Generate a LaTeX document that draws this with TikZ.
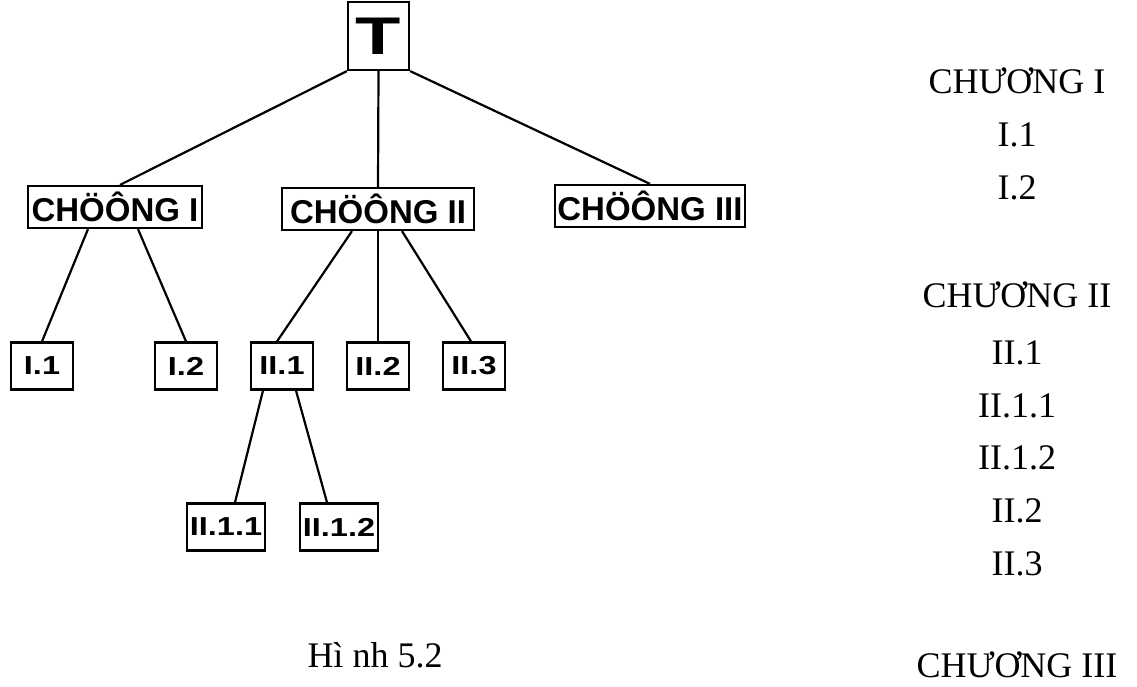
\documentclass[tikz,border=0pt]{standalone}
\usepackage{fontspec}
\usepackage{graphicx}
\setmainfont{Liberation Serif}
\newfontfamily\boxfont{Liberation Sans}
\newcommand{\widelabel}[1]{\scalebox{1.25}[1]{#1}}
\begin{document}
\begin{tikzpicture}[x=1pt,y=-1pt,
  box/.style={draw, line width=2.2pt, inner sep=0pt, align=center,
    font=\boxfont\bfseries},
  chapbox/.style={box, minimum height=42pt, font=\boxfont\bfseries\fontsize{33}{33}\selectfont},
  secbox/.style={box, minimum width=62pt, minimum height=47pt, font=\boxfont\bfseries\fontsize{26}{26}\selectfont},
  subbox/.style={box, minimum width=78pt, minimum height=47pt, font=\boxfont\bfseries\fontsize{26}{26}\selectfont},
  link/.style={line width=2.2pt},
  toc/.style={font=\fontsize{36}{36}\selectfont, inner sep=0pt, anchor=base},
]
\useasboundingbox (0,0) rectangle (1137,687);

% tree
\node[box, minimum width=61pt, minimum height=68pt,
  font=\boxfont\bfseries\fontsize{53}{53}\selectfont] (T) at (378.5,36) {\scalebox{1.4}[1]{T}};

\node[chapbox, minimum width=174pt] (ch1) at (115,207) {CHÖÔNG I};
\node[chapbox, minimum width=192pt] (ch2) at (378,209) {CHÖÔNG II};
\node[chapbox, minimum width=190pt] (ch3) at (650,206) {CHÖÔNG III};

\node[secbox] (i1)  at (42,366)  {\widelabel{I.1}};
\node[secbox] (i2)  at (186,366) {\widelabel{I.2}};
\node[secbox] (ii1) at (282,366) {\widelabel{II.1}};
\node[secbox] (ii2) at (378,366) {\widelabel{II.2}};
\node[secbox] (ii3) at (474,366) {\widelabel{II.3}};

\node[subbox] (ii11) at (226,527) {\widelabel{II.1.1}};
\node[subbox] (ii12) at (339,527) {\widelabel{II.1.2}};

\draw[link] (T.south west) -- ([xshift=5pt]ch1.north);
\draw[link] (T.south) -- (ch2.north);
\draw[link] (T.south east) -- (ch3.north);

\draw[link] ([xshift=-27pt]ch1.south) -- (i1.north);
\draw[link] ([xshift=23pt]ch1.south) -- (i2.north);

\draw[link] ([xshift=-26pt]ch2.south) -- ([xshift=-5pt]ii1.north);
\draw[link] (ch2.south) -- (ii2.north);
\draw[link] ([xshift=24pt]ch2.south) -- ([xshift=-3pt]ii3.north);

\draw[link] ([xshift=-19pt]ii1.south) -- ([xshift=9pt]ii11.north);
\draw[link] ([xshift=14pt]ii1.south) -- ([xshift=-12pt]ii12.north);

\node[toc] (cap) at (375,667) {Hì nh 5.2};

% table of contents
\node[toc] (c1)   at (1017,94)  {CHƯƠNG I};
\node[toc] (c11)  at (1017,147) {I.1};
\node[toc] (c12)  at (1017,200) {I.2};
\node[toc] (c2)   at (1017,307) {CHƯƠNG II};
\node[toc] (c21)  at (1017,364) {II.1};
\node[toc] (c211) at (1017,417) {II.1.1};
\node[toc] (c212) at (1017,469) {II.1.2};
\node[toc] (c22)  at (1017,522) {II.2};
\node[toc] (c23)  at (1017,575) {II.3};
\node[toc] (c3)   at (1017,677) {CHƯƠNG III};
\end{tikzpicture}
\end{document}
